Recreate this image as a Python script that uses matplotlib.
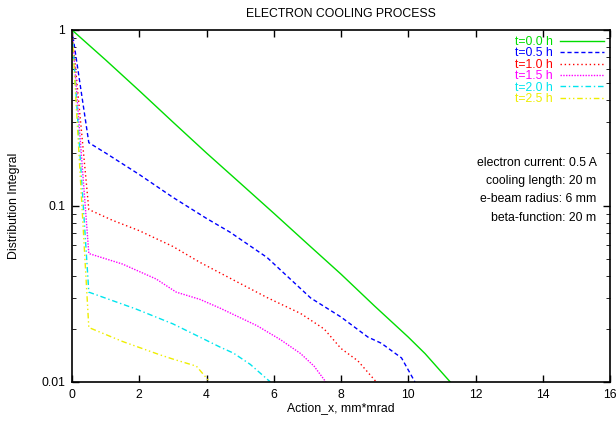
import numpy as np
import matplotlib
matplotlib.use('Agg')
import matplotlib.pyplot as plt

plt.rcParams['font.family'] = ['Liberation Sans', 'DejaVu Sans']
plt.rcParams['font.size'] = 8.8

# ============== data ===================
labels = ['t=0.0 h', 't=0.5 h', 't=1.0 h', 't=1.5 h', 't=2.0 h', 't=2.5 h']

x_t00 = [0, 1, 2, 3, 4, 5, 6, 7, 8, 9, 10, 10.5, 11.25]
y_t00 = [1.0, 0.676, 0.452, 0.30, 0.20, 0.135, 0.091, 0.061, 0.041, 0.027, 0.018, 0.0145, 0.010]

x_t05 = [0, 0.5, 1, 2, 3, 4, 4.7, 5.8, 7.1, 8.0, 8.8, 9.2, 9.8, 10.2]
y_t05 = [1.0, 0.229, 0.20, 0.151, 0.112, 0.085, 0.071, 0.051, 0.030, 0.0234, 0.018, 0.0166, 0.0137, 0.010]

x_t10 = [0, 0.5, 1.2, 2, 3, 3.8, 4.8, 5.8, 6.8, 7.5, 8.0, 8.5, 9.05]
y_t10 = [1.0, 0.0955, 0.083, 0.0724, 0.0589, 0.0479, 0.038, 0.0302, 0.0245, 0.020, 0.0155, 0.0132, 0.010]

x_t15 = [0, 0.5, 1.5, 2.5, 3.1, 3.8, 4.4, 5.5, 6.2, 6.8, 7.2, 7.55]
y_t15 = [1.0, 0.0537, 0.0468, 0.0385, 0.0324, 0.0295, 0.0263, 0.0209, 0.0174, 0.0145, 0.0123, 0.010]

x_t20 = [0, 0.5, 1.9, 3.0, 3.8, 4.4, 4.8, 5.3, 5.9]
y_t20 = [1.0, 0.0324, 0.026, 0.0214, 0.018, 0.0158, 0.0146, 0.0126, 0.010]

x_t25 = [0, 0.5, 1.5, 2.6, 3.0, 3.7, 4.1]
y_t25 = [1.0, 0.0204, 0.017, 0.0143, 0.0135, 0.0123, 0.010]

params = ['electron current: 0.5 A', 'cooling length: 20 m',
          'e-beam radius: 6 mm', 'beta-function: 20 m']

# ============== plot ===================
fig = plt.figure(figsize=(6.16, 4.24), dpi=100)
ax = fig.add_axes([72/616, 42/424, 538/616, 352/424])

ax.plot(x_t00, y_t00, color='#00dd00', lw=1.0, ls='-', label=labels[0])
ax.plot(x_t05, y_t05, color='#0000ff', lw=1.0, ls=(0, (3, 2)), label=labels[1])
ax.plot(x_t10, y_t10, color='#ff0000', lw=1.0, ls=(0, (1, 2)), label=labels[2])
ax.plot(x_t15, y_t15, color='#ff00ff', lw=1.0, ls=(0, (1, 1)), label=labels[3])
ax.plot(x_t20, y_t20, color='#00e5ee', lw=1.0, ls=(0, (4, 2, 1, 2)), label=labels[4])
ax.plot(x_t25, y_t25, color='#eeee00', lw=1.0, ls=(0, (4, 2, 1, 2, 1, 2)), label=labels[5])

ax.set_yscale('log')
ax.set_xlim(0, 16)
ax.set_ylim(0.01, 1)
ax.set_xticks(np.arange(0, 17, 2))
ax.set_yticks([0.01, 0.1, 1])
ax.set_yticklabels(['0.01', '0.1', '1'])
ax.tick_params(which='both', direction='in', top=True, right=True, pad=5)
ax.tick_params(which='major', length=5, width=1)
ax.tick_params(which='minor', length=3)
for sp in ax.spines.values():
    sp.set_linewidth(1.2)

ax.set_title('ELECTRON COOLING PROCESS', fontsize=8.8, pad=9)
ax.set_xlabel('Action_x, mm*mrad', labelpad=1)
ax.set_ylabel('Distribution Integral', labelpad=15)

leg = ax.legend(loc='upper right', frameon=False, markerfirst=False,
                labelcolor='linecolor', handlelength=3.6, handletextpad=0.6,
                labelspacing=-0.05, borderaxespad=0.1, fontsize=8.8)

for i, t in enumerate(params):
    ax.text(0.975, 0.623 - i * 0.052, t, transform=ax.transAxes,
            ha='right', va='center', fontsize=8.8)

fig.savefig('out.png', dpi=100)
